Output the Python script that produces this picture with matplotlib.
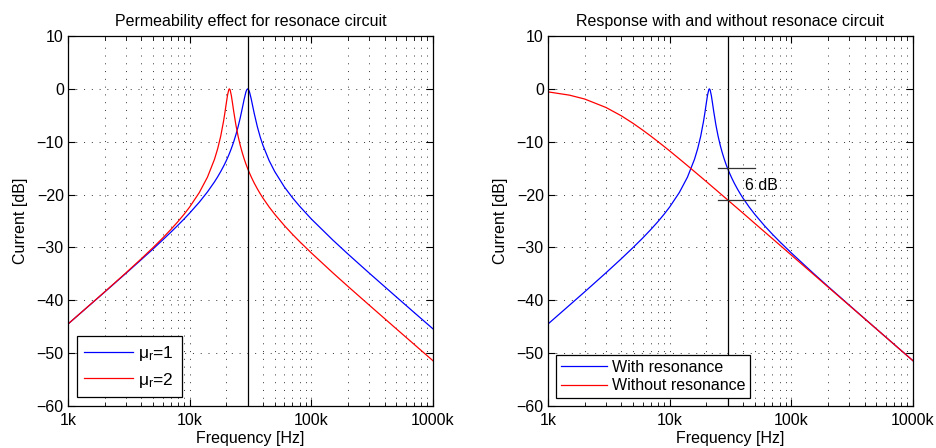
import numpy as np
import matplotlib
matplotlib.use("Agg")
import matplotlib.pyplot as plt
from matplotlib.ticker import NullFormatter, LogLocator

plt.rcParams['font.family'] = ['Liberation Sans', 'DejaVu Sans']
plt.rcParams['font.size'] = 11.5

# frequency points (kHz), denser around the peaks
freq_k = [1, 1.5, 2, 3, 4, 5, 6, 7, 8, 9, 10, 12, 14, 16, 17, 18, 19, 19.5, 20,
          20.5, 21, 21.2, 21.5, 22, 22.5, 23, 24, 25, 26, 27, 28, 29, 29.5, 30,
          30.5, 31, 32, 33, 34, 36, 38, 40, 45, 50, 60, 70, 80, 100, 150, 200,
          300, 500, 700, 1000]

# mu_r = 1 curve (peak at 30k)
mu1_db = [-44.50, -40.96, -38.45, -34.88, -32.31, -30.29, -28.59, -27.12, -25.81,
          -24.62, -23.50, -21.44, -19.50, -17.59, -16.63, -15.64, -14.63, -14.11,
          -13.58, -13.03, -12.47, -12.24, -11.89, -11.29, -10.67, -10.03, -8.66,
          -7.17, -5.55, -3.80, -2.04, -0.58, -0.15, 0.0, -0.15, -0.55, -1.83,
          -3.31, -4.73, -7.17, -9.11, -10.67, -13.58, -15.64, -18.55, -20.60,
          -22.19, -24.62, -28.59, -31.25, -34.88, -39.37, -42.31, -45.41]

# mu_r = 2 curve (peak near 21.2k), also the "with resonance" curve
mu2_db = [-44.49, -40.94, -38.41, -34.79, -32.15, -30.03, -28.23, -26.61, -25.13,
          -23.72, -22.35, -19.62, -16.71, -13.32, -11.30, -8.94, -6.08, -4.45,
          -2.72, -1.12, -0.11, 0.0, -0.19, -1.25, -2.72, -4.22, -6.85, -8.94,
          -10.62, -12.01, -13.19, -14.22, -14.67, -15.10, -15.51, -15.90, -16.61,
          -17.26, -17.86, -18.92, -19.84, -20.65, -22.35, -23.72, -25.86, -27.52,
          -28.88, -31.04, -34.79, -37.37, -40.94, -45.41, -48.34, -51.44]

# without resonance
nores_db = [-0.57, -1.19, -1.92, -3.53, -5.09, -6.52, -7.80, -8.94, -9.97, -10.90,
            -11.74, -13.24, -14.52, -15.65, -16.16, -16.64, -17.10, -17.33, -17.54,
            -17.75, -17.96, -18.04, -18.16, -18.36, -18.55, -18.74, -19.10, -19.45,
            -19.79, -20.11, -20.43, -20.73, -20.87, -21.02, -21.16, -21.30, -21.58,
            -21.84, -22.10, -22.59, -23.06, -23.50, -24.52, -25.44, -27.02, -28.35,
            -29.51, -31.45, -34.97, -37.47, -40.99, -45.42, -48.35, -51.44]

marker_f = 30e3          # vertical marker frequency
gap_levels = [-15, -21]  # the 6 dB gap
gap_span = [25e3, 50e3]

xticks = [1e3, 1e4, 1e5, 1e6]
xticklabels = ['1k', '10k', '100k', '1000k']
yticks = [-60, -50, -40, -30, -20, -10, 0, 10]

freq = np.array(freq_k) * 1e3

dots = (0, (1, 7))


def styleAxes(ax):
    ax.set_xscale('log')
    ax.set_xlim(1e3, 1e6)
    ax.set_ylim(-60, 10)
    ax.set_xticks(xticks)
    ax.set_xticklabels(xticklabels)
    ax.xaxis.set_minor_locator(LogLocator(base=10, subs=np.arange(2, 10)))
    ax.xaxis.set_minor_formatter(NullFormatter())
    ax.set_yticks(yticks)
    ax.tick_params(which='both', direction='in', top=True, right=True, labelsize=11.5)
    ax.tick_params(which='major', length=5, width=0.8, pad=3)
    ax.tick_params(axis='x', which='major', pad=5)
    ax.tick_params(which='minor', length=3, width=0.6)
    ax.grid(True, which='both', axis='x', color='#333333', linestyle=dots, linewidth=0.7)
    ax.grid(True, which='major', axis='y', color='#333333', linestyle=dots, linewidth=0.7)
    ax.set_xlabel('Frequency [Hz]', labelpad=2)
    ax.set_ylabel('Current [dB]', labelpad=6)
    for s in ax.spines.values():
        s.set_linewidth(0.9)


fig = plt.figure(figsize=(9.36, 4.48), dpi=100)
ax1 = fig.add_axes([68 / 936, 42 / 448, 365 / 936, 370 / 448])
ax2 = fig.add_axes([548 / 936, 42 / 448, 365 / 936, 370 / 448])

# left: permeability effect
ax1.plot(freq, mu1_db, color='b', linewidth=0.9, label='$\\mathregular{μ_r}$=1')
ax1.plot(freq, mu2_db, color='r', linewidth=0.9, label='$\\mathregular{μ_r}$=2')
ax1.axvline(marker_f, color='k', linewidth=0.9)
styleAxes(ax1)
ax1.set_title('Permeability effect for resonace circuit', fontsize=11.5, pad=7)
leg1 = ax1.legend(loc='lower left', fontsize=12.5, handlelength=2.8, handletextpad=0.3,
                  labelspacing=0.45, fancybox=False, edgecolor='k', framealpha=1,
                  borderaxespad=0.5, borderpad=0.45)
leg1.get_frame().set_linewidth(0.9)

# right: with / without resonance
ax2.plot(freq, mu2_db, color='b', linewidth=0.9, label='With resonance')
ax2.plot(freq, nores_db, color='r', linewidth=0.9, label='Without resonance')
ax2.axvline(marker_f, color='k', linewidth=0.9)
for lvl in gap_levels:
    ax2.plot(gap_span, [lvl, lvl], color='#333333', linewidth=0.9)
ax2.text(42e3, -18.2, '6 dB', fontsize=11.5, va='center', ha='left')
styleAxes(ax2)
ax2.set_title('Response with and without resonace circuit', fontsize=11.5, pad=7)
leg2 = ax2.legend(loc='lower left', fontsize=11.5, handlelength=2.9, handletextpad=0.3,
                  labelspacing=0.2, fancybox=False, edgecolor='k', framealpha=1,
                  borderaxespad=0.5, borderpad=0.3)
leg2.get_frame().set_linewidth(0.9)

plt.savefig('out.png', dpi=100)
